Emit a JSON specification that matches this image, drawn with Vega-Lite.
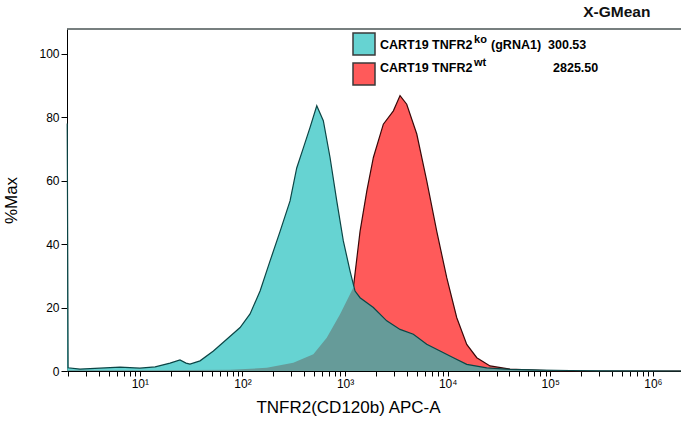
{
  "$schema": "https://vega.github.io/schema/vega-lite/v6.json",
  "width": 614,
  "height": 342,
  "autosize": {"type": "none"},
  "padding": {"left": 67, "top": 29, "right": 0, "bottom": 57},
  "background": "white",
  "config": {"view": {"stroke": null}, "axis": {"ticks": true, "domain": true, "grid": true, "gridColor": "white", "gridOpacity": 1}},
  "title": {"text": "X-GMean", "anchor": "end", "dx": -33, "offset": 8, "fontSize": 15.5, "fontWeight": "bold", "font": "Liberation Sans", "color": "#111111"},
  "datasets": {
    "hist": [
      {"sample": "ko", "x": 1.96, "y": 78},
      {"sample": "ko", "x": 2.0, "y": 1.0},
      {"sample": "ko", "x": 2.61, "y": 0.6},
      {"sample": "ko", "x": 4.09, "y": 0.9},
      {"sample": "ko", "x": 6.41, "y": 1.2},
      {"sample": "ko", "x": 10, "y": 0.9},
      {"sample": "ko", "x": 14.1, "y": 1.3},
      {"sample": "ko", "x": 19.7, "y": 2.5},
      {"sample": "ko", "x": 24.6, "y": 3.5},
      {"sample": "ko", "x": 28.2, "y": 2.5},
      {"sample": "ko", "x": 30.8, "y": 2.2},
      {"sample": "ko", "x": 38.6, "y": 3.2},
      {"sample": "ko", "x": 52.1, "y": 6.3},
      {"sample": "ko", "x": 70.3, "y": 10},
      {"sample": "ko", "x": 94.8, "y": 13.7},
      {"sample": "ko", "x": 118.6, "y": 18},
      {"sample": "ko", "x": 148.5, "y": 25.2},
      {"sample": "ko", "x": 185.8, "y": 34.7},
      {"sample": "ko", "x": 232.6, "y": 44},
      {"sample": "ko", "x": 291, "y": 53.6},
      {"sample": "ko", "x": 338, "y": 64},
      {"sample": "ko", "x": 393, "y": 70.4},
      {"sample": "ko", "x": 456, "y": 76.8},
      {"sample": "ko", "x": 530, "y": 83.6},
      {"sample": "ko", "x": 614, "y": 78.9},
      {"sample": "ko", "x": 714, "y": 67.3},
      {"sample": "ko", "x": 830, "y": 53.6},
      {"sample": "ko", "x": 962, "y": 41},
      {"sample": "ko", "x": 1119, "y": 31.5},
      {"sample": "ko", "x": 1251, "y": 25.2},
      {"sample": "ko", "x": 1400, "y": 23.1},
      {"sample": "ko", "x": 1888, "y": 20},
      {"sample": "ko", "x": 2547, "y": 15.8},
      {"sample": "ko", "x": 3434, "y": 13.1},
      {"sample": "ko", "x": 4632, "y": 11.6},
      {"sample": "ko", "x": 6248, "y": 8.4},
      {"sample": "ko", "x": 8433, "y": 6.3},
      {"sample": "ko", "x": 11375, "y": 4.2},
      {"sample": "ko", "x": 15347, "y": 2.1},
      {"sample": "ko", "x": 24050, "y": 1.0},
      {"sample": "ko", "x": 40550, "y": 0.5},
      {"sample": "ko", "x": 79600, "y": 0.3},
      {"sample": "ko", "x": 156000, "y": 0.15},
      {"sample": "ko", "x": 305700, "y": 0.05},
      {"sample": "ko", "x": 1880000, "y": 0},
      {"sample": "wt", "x": 1.96, "y": 0.2},
      {"sample": "wt", "x": 12.6, "y": 0.2},
      {"sample": "wt", "x": 75.7, "y": 0.4},
      {"sample": "wt", "x": 172.6, "y": 1.0},
      {"sample": "wt", "x": 313, "y": 2.6},
      {"sample": "wt", "x": 491, "y": 5.3},
      {"sample": "wt", "x": 663, "y": 10.5},
      {"sample": "wt", "x": 894, "y": 17.9},
      {"sample": "wt", "x": 1205, "y": 26.3},
      {"sample": "wt", "x": 1400, "y": 44},
      {"sample": "wt", "x": 1630, "y": 56.8},
      {"sample": "wt", "x": 1888, "y": 67.3},
      {"sample": "wt", "x": 2361, "y": 77.8},
      {"sample": "wt", "x": 2958, "y": 82},
      {"sample": "wt", "x": 3434, "y": 86.8},
      {"sample": "wt", "x": 3990, "y": 84.1},
      {"sample": "wt", "x": 5000, "y": 74.7},
      {"sample": "wt", "x": 6248, "y": 60},
      {"sample": "wt", "x": 7832, "y": 44},
      {"sample": "wt", "x": 9797, "y": 29.4},
      {"sample": "wt", "x": 12270, "y": 16.8},
      {"sample": "wt", "x": 15347, "y": 8.4},
      {"sample": "wt", "x": 19230, "y": 4.2},
      {"sample": "wt", "x": 25880, "y": 1.6},
      {"sample": "wt", "x": 40550, "y": 0.6},
      {"sample": "wt", "x": 79600, "y": 0.2},
      {"sample": "wt", "x": 124800, "y": 0},
      {"sample": "wt", "x": 1880000, "y": 0},
      {"sample": "overlap", "x": 1.96, "y": 0.2},
      {"sample": "overlap", "x": 12.6, "y": 0.2},
      {"sample": "overlap", "x": 75.7, "y": 0.4},
      {"sample": "overlap", "x": 172.6, "y": 1.0},
      {"sample": "overlap", "x": 313, "y": 2.6},
      {"sample": "overlap", "x": 491, "y": 5.3},
      {"sample": "overlap", "x": 663, "y": 10.5},
      {"sample": "overlap", "x": 894, "y": 17.9},
      {"sample": "overlap", "x": 1205, "y": 26.3},
      {"sample": "overlap", "x": 1251, "y": 25.2},
      {"sample": "overlap", "x": 1400, "y": 23.1},
      {"sample": "overlap", "x": 1888, "y": 20},
      {"sample": "overlap", "x": 2547, "y": 15.8},
      {"sample": "overlap", "x": 3434, "y": 13.1},
      {"sample": "overlap", "x": 4632, "y": 11.6},
      {"sample": "overlap", "x": 6248, "y": 8.4},
      {"sample": "overlap", "x": 8433, "y": 6.3},
      {"sample": "overlap", "x": 11375, "y": 4.2},
      {"sample": "overlap", "x": 15347, "y": 2.1},
      {"sample": "overlap", "x": 24050, "y": 1.0},
      {"sample": "overlap", "x": 40550, "y": 0.5},
      {"sample": "overlap", "x": 79600, "y": 0.2},
      {"sample": "overlap", "x": 124800, "y": 0},
      {"sample": "overlap", "x": 1880000, "y": 0}
    ]
  },
  "layer": [
    {
      "data": {"name": "hist"},
      "transform": [{"filter": "datum.sample == 'wt'"}],
      "mark": {"type": "area"},
      "encoding": {
        "x": {
          "field": "x", "type": "quantitative",
          "scale": {"type": "log", "domain": [1.95, 1880000], "nice": false},
          "axis": {
            "title": "TNFR2(CD120b) APC-A", "titleX": 281, "titleFontSize": 17, "titleFontWeight": "normal", "titlePadding": 10,
            "values": [2,3,4,5,6,7,8,9,10,20,30,40,50,60,70,80,90,100,200,300,400,500,600,700,800,900,1000,2000,3000,4000,5000,6000,7000,8000,9000,10000,20000,30000,40000,50000,60000,70000,80000,90000,100000,200000,300000,400000,500000,600000,700000,800000,900000,1000000],
            "labelExpr": "datum.value == 10 ? '10¹' : datum.value == 100 ? '10²' : datum.value == 1000 ? '10³' : datum.value == 10000 ? '10⁴' : datum.value == 100000 ? '10⁵' : datum.value == 1000000 ? '10⁶' : ''",
            "labelOverlap": false, "labelFlush": false, "labelFontSize": 12,
            "tickSize": 5, "tickColor": "black", "domainColor": "black"
          }
        },
        "y": {
          "field": "y", "type": "quantitative", "stack": null,
          "scale": {"domain": [0, 107.8], "nice": false},
          "axis": {
            "title": "%Max", "titleFontSize": 17, "titleFontWeight": "normal", "titlePadding": 18,
            "values": [0, 10, 20, 30, 40, 50, 60, 70, 80, 90, 100],
            "labelExpr": "datum.value % 20 == 0 ? datum.label : ''",
            "labelFontSize": 12,
            "tickSize": 6, "tickColor": "black", "domainColor": "black"
          }
        },
        "color": {
          "field": "sample", "type": "nominal",
          "scale": {"domain": ["ko", "wt"], "range": ["#66D3D2", "#FF5A5A"]},
          "legend": {
            "title": null, "orient": "none", "legendX": 285, "legendY": 3,
            "symbolType": "square", "symbolSize": 484, "symbolStrokeColor": "#3a3a3a", "symbolStrokeWidth": 1.5, "symbolOpacity": 1,
            "labelExpr": "''", "labelOffset": 0, "rowPadding": 2, "padding": 0
          }
        }
      }
    },
    {
      "data": {"name": "hist"},
      "transform": [{"filter": "datum.sample == 'wt'"}],
      "mark": {"type": "line", "stroke": "#3a0808", "strokeWidth": 1.2},
      "encoding": {"x": {"field": "x", "type": "quantitative"}, "y": {"field": "y", "type": "quantitative"}}
    },
    {
      "data": {"name": "hist"},
      "transform": [{"filter": "datum.sample == 'ko'"}],
      "mark": {"type": "area"},
      "encoding": {"x": {"field": "x", "type": "quantitative"}, "y": {"field": "y", "type": "quantitative", "stack": null}, "color": {"field": "sample", "type": "nominal"}}
    },
    {
      "data": {"name": "hist"},
      "transform": [{"filter": "datum.sample == 'overlap'"}],
      "mark": {"type": "area", "fill": "#669B99"},
      "encoding": {"x": {"field": "x", "type": "quantitative"}, "y": {"field": "y", "type": "quantitative", "stack": null}}
    },
    {
      "data": {"name": "hist"},
      "transform": [{"filter": "datum.sample == 'ko'"}],
      "mark": {"type": "line", "stroke": "#0b4545", "strokeWidth": 1.2},
      "encoding": {"x": {"field": "x", "type": "quantitative"}, "y": {"field": "y", "type": "quantitative"}}
    },
    {
      "data": {"values": [{"a": 1}]},
      "mark": {"type": "rule", "stroke": "#4a5555", "strokeWidth": 1.5},
      "encoding": {"y": {"datum": 107.8}}
    },
    {
      "data": {"values": [{"a": 1}]},
      "mark": {"type": "text", "text": "CART19 TNFR2", "align": "left", "fontSize": 12.5, "fontWeight": "bold", "font": "Liberation Sans", "fill": "black"},
      "encoding": {"x": {"datum": 2191}, "y": {"datum": 102.8}}
    },
    {
      "data": {"values": [{"a": 1}]},
      "mark": {"type": "text", "text": "ko", "align": "left", "fontSize": 11, "fontWeight": "bold", "font": "Liberation Sans", "fill": "black"},
      "encoding": {"x": {"datum": 18070}, "y": {"datum": 104.4}}
    },
    {
      "data": {"values": [{"a": 1}]},
      "mark": {"type": "text", "text": "(gRNA1)", "align": "left", "fontSize": 12.5, "fontWeight": "bold", "font": "Liberation Sans", "fill": "black"},
      "encoding": {"x": {"datum": 26490}, "y": {"datum": 102.8}}
    },
    {
      "data": {"values": [{"a": 1}]},
      "mark": {"type": "text", "text": "300.53", "align": "left", "fontSize": 12.5, "fontWeight": "bold", "font": "Liberation Sans", "fill": "black"},
      "encoding": {"x": {"datum": 95100}, "y": {"datum": 102.8}}
    },
    {
      "data": {"values": [{"a": 1}]},
      "mark": {"type": "text", "text": "CART19 TNFR2", "align": "left", "fontSize": 12.5, "fontWeight": "bold", "font": "Liberation Sans", "fill": "black"},
      "encoding": {"x": {"datum": 2191}, "y": {"datum": 95.5}}
    },
    {
      "data": {"values": [{"a": 1}]},
      "mark": {"type": "text", "text": "wt", "align": "left", "fontSize": 11, "fontWeight": "bold", "font": "Liberation Sans", "fill": "black"},
      "encoding": {"x": {"datum": 18070}, "y": {"datum": 97.2}}
    },
    {
      "data": {"values": [{"a": 1}]},
      "mark": {"type": "text", "text": "2825.50", "align": "left", "fontSize": 12.5, "fontWeight": "bold", "font": "Liberation Sans", "fill": "black"},
      "encoding": {"x": {"datum": 106400}, "y": {"datum": 95.5}}
    }
  ]
}
